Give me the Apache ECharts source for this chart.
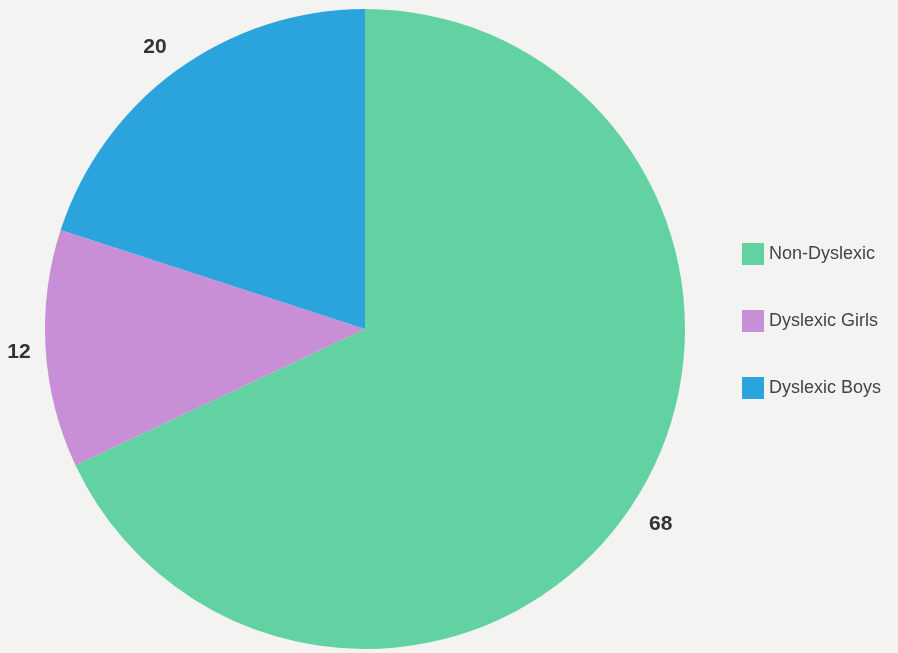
<!DOCTYPE html>
<html>
<head>
<meta charset="utf-8">
<script src="https://cdn.jsdelivr.net/npm/echarts@6/dist/echarts.min.js"></script>
<style>
  html, body { margin: 0; padding: 0; background: #f3f3f1; }
  #chart { width: 898px; height: 653px; }
</style>
</head>
<body>
<div id="chart"></div>
<script>
// datos
const categories = ["Non-Dyslexic", "Dyslexic Girls", "Dyslexic Boys"];
const values = [68, 12, 20];
const colors = ["#63d2a2", "#c98fd6", "#2ba4dd"];

const chart = echarts.init(document.getElementById("chart"));

// pequeños ajustes de posición de las etiquetas (dx, dy)
const labelShift = [[-3, 16], [4, 2], [3, -12]];

const option = {
    backgroundColor: "#f3f3f1",
    color: colors,
    legend: {
        orient: "vertical",
        left: 737,
        top: 238,
        itemWidth: 22,
        itemHeight: 22,
        itemGap: 45,
        icon: "rect",
        textStyle: {
            fontFamily: "Liberation Sans",
            fontSize: 18,
            color: "#444"
        },
        data: categories
    },
    series: [
        {
            type: "pie",
            center: [365, 329],
            radius: 320,
            startAngle: 90,
            clockwise: true,
            silent: true,
            data: categories.map((name, i) => ({ name: name, value: values[i] })),
            label: {
                show: true,
                position: "outside",
                formatter: "{c}",
                overflow: "none",
                fontFamily: "Liberation Sans",
                fontWeight: "bold",
                fontSize: 21,
                color: "#333"
            },
            labelLine: { show: false, length: 14, length2: 0 },
            labelLayout: (params) => ({
                dx: labelShift[params.dataIndex][0],
                dy: labelShift[params.dataIndex][1]
            }),
            itemStyle: { borderWidth: 0 }
        }
    ]
};

chart.setOption(option);
</script>
</body>
</html>
